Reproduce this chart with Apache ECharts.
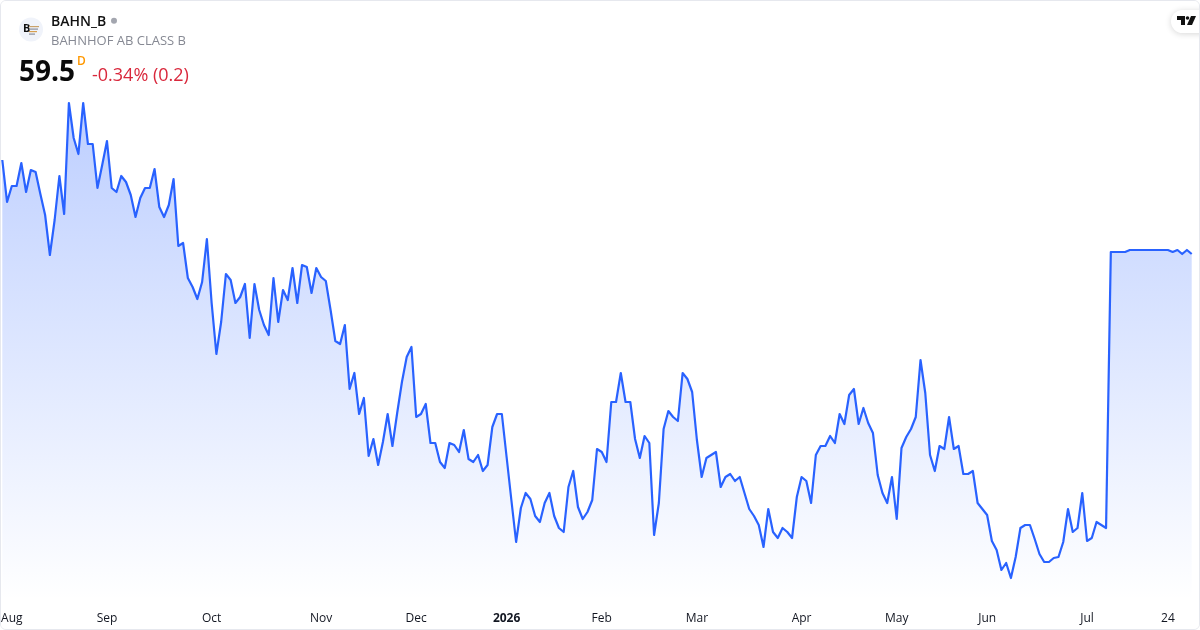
<!DOCTYPE html>
<html>
<head>
<meta charset="utf-8">
<style>
html,body{margin:0;padding:0;background:#fff;}
#card{position:absolute;left:0;top:0;width:1198px;height:628px;border:1px solid #e6e8ee;border-radius:6px;overflow:hidden;}
#chart{position:absolute;left:-1px;top:-1px;width:1200px;height:630px;}
</style>
<script src="https://cdn.jsdelivr.net/npm/echarts@6/dist/echarts.min.js"></script>
</head>
<body>
<div id="card"><div id="chart"></div></div>
<script>
const symbolName = 'BAHN_B';
const companyName = 'BAHNHOF AB CLASS B';
const lastPrice = '59.5';
const changeText = '-0.34% (0.2)';
const tickIndex = [0,22,44,67,87,106,126,146,168,188,207,228,245];
const tickLabels = ['Aug','Sep','Oct','Nov','Dec','2026','Feb','Mar','Apr','May','Jun','Jul','24'];
const prices1 = [64.2,62.1,62.9,62.9,64.05,62.6,63.7,63.6,62.5,61.45,59.45,61.2,63.4,61.5,67.05,65.3,64.5,67.05,65.0,65.0,62.8,63.95,65.15,62.8,62.6,63.4,63.1,62.45,61.35,62.3,62.8,62.8,63.75,61.85,61.35,61.95,63.25,59.9,60.05,58.3,57.85,57.25,58.1,60.25,57.05,54.5,56.1,58.5,58.2,57.05,57.35,58.0,55.3,58.0,56.7,55.95,55.45,58.3,56.1,57.7,57.2,58.8,57.05];
const prices2 = [58.95,58.85,57.55,58.8,58.35,58.15,56.7,55.15,55.0,55.95,52.75,53.55,51.5,52.3,49.4,50.25,48.95,50.1,51.5,49.9,51.55,53.1,54.35,54.85,51.35,51.5,52.0,50.05,50.05,49.1,48.8,50.05,49.95,49.6,50.7,49.25,49.1,49.45,48.65,48.95,50.85,51.5,51.5,49.35,47.2,45.1,46.8,47.55,47.25,46.4,46.1,47.05,47.55,46.4,45.8,45.6,47.85,48.65,46.85,46.25,46.6,47.2,49.75];
const prices3 = [49.6,49.1,52.1,52.1,53.55,52.1,52.1,50.25,49.3,50.4,50.05,45.45,47.05,50.75,51.65,51.35,51.15,53.55,53.25,52.6,50.2,48.35,49.3,49.45,49.6,47.85,48.35,48.5,48.15,48.35,47.55,46.75,46.4,45.95,44.85,46.75,45.6,45.3,45.8,45.6,45.3,47.35,48.35,48.15,47.05,49.45,49.9,49.9,50.4,50.05,51.5,51.0,52.45,52.75,51.0,51.8,51.05,50.55,48.45,47.55,47.05,48.35,46.25];
const prices4 = [49.8,50.35,50.75,51.35,54.2,52.55,49.45,48.65,49.9,49.75,51.35,49.75,49.9,48.5,48.5,48.65,47.05,46.75,46.45,45.15,44.7,43.7,44.05,43.3,44.35,45.8,45.95,45.95,45.25,44.5,44.1,44.1,44.3,44.35,45.1,46.75,45.6,45.8,47.55,45.15,45.3,46.1,45.95,45.8];
const prices5 = [59.6,59.6,59.6,59.6,59.7,59.7,59.7,59.7,59.7,59.7,59.7,59.7,59.7,59.6,59.7,59.5,59.7,59.5];

const prices = [].concat(prices1, prices2, prices3, prices4, prices5);
const categories = prices.map((_, i) => String(i));
const labelByIndex = {};
tickIndex.forEach((t, i) => { labelByIndex[t] = tickLabels[i]; });

const FONT = '"Open Sans", "Noto Sans", sans-serif';
const chart = echarts.init(document.getElementById('chart'), null, {renderer: 'canvas'});
chart.setOption({
  animation: false,
  backgroundColor: '#ffffff',
  grid: {left: 2.3, right: 8.3, top: 100, bottom: 30, containLabel: false, outerBoundsMode: 'none'},
  xAxis: {
    type: 'category',
    data: categories,
    boundaryGap: false,
    axisLine: {show: false},
    axisTick: {show: false},
    splitLine: {show: false},
    axisLabel: {
      interval: (index) => labelByIndex[index] !== undefined,
      formatter: (value, index) => {
        const t = labelByIndex[index] || '';
        if (index === 0) return '{first|' + t + '}';
        return /^\d{4}$/.test(t) ? '{year|' + t + '}' : t;
      },
      color: '#131722',
      fontFamily: FONT,
      fontSize: 12,
      margin: 13,
      rich: {
        year: {fontWeight: 'bold', fontSize: 12, fontFamily: FONT, color: '#131722'},
        first: {fontSize: 12, fontFamily: FONT, color: '#131722', padding: [0, 0, 0, 19]}
      }
    }
  },
  yAxis: {type: 'value', min: 42.2, max: 67.2, show: false},
  series: [{
    type: 'line',
    data: prices,
    showSymbol: false,
    smooth: false,
    lineStyle: {color: '#2962ff', width: 2.2, join: 'round'},
    areaStyle: {
      origin: 'start',
      opacity: 1,
      color: new echarts.graphic.LinearGradient(0, 0, 0, 1, [
        {offset: 0, color: 'rgba(41,98,255,0.31)'},
        {offset: 1, color: 'rgba(41,98,255,0)'}
      ])
    }
  }],
  graphic: [
    {type: 'circle', shape: {cx: 31, cy: 29.5, r: 12}, style: {fill: '#f0f3fa'}},
    {type: 'text', left: 23, top: 23, style: {text: 'B', font: 'bold 11px ' + FONT, fill: '#111111'}},
    {type: 'rect', shape: {x: 29, y: 26, width: 10, height: 1.2}, style: {fill: '#c9a26a'}},
    {type: 'rect', shape: {x: 29, y: 28.5, width: 9, height: 1.2}, style: {fill: '#8a8f9c'}},
    {type: 'rect', shape: {x: 29, y: 31, width: 8, height: 1.2}, style: {fill: '#d8a050'}},
    {type: 'rect', shape: {x: 29, y: 33.5, width: 6, height: 1.2}, style: {fill: '#8a8f9c'}},
    {type: 'text', left: 51, top: 15, style: {text: symbolName, font: '600 14px ' + FONT, fill: '#111111'}},
    {type: 'circle', shape: {cx: 114, cy: 20.7, r: 3}, style: {fill: '#a3a6af'}},
    {type: 'text', left: 51, top: 35, style: {text: companyName, font: '13px ' + FONT, fill: '#868993'}},
    {type: 'text', left: 19, top: 59, style: {text: lastPrice, font: 'bold 28px ' + FONT, fill: '#0a0a0a'}},
    {type: 'text', left: 77, top: 56, style: {text: 'D', font: '600 12px ' + FONT, fill: '#ff9800'}},
    {type: 'text', left: 92, top: 67, style: {text: changeText, font: '18px ' + FONT, fill: '#d9283c'}},
    {type: 'rect', shape: {x: 1171, y: 10, width: 50, height: 23, r: 12},
     style: {fill: '#ffffff', shadowBlur: 6, shadowColor: 'rgba(0,0,0,0.16)', shadowOffsetY: 1}},
    {type: 'polygon', shape: {points: [[1177,16],[1185,16],[1185,25],[1181,25],[1181,20],[1177,20]]}, style: {fill: '#111111'}},
    {type: 'circle', shape: {cx: 1187.5, cy: 18, r: 1.8}, style: {fill: '#111111'}},
    {type: 'polygon', shape: {points: [[1191,16],[1196,16],[1192,25],[1187,25]]}, style: {fill: '#111111'}}
  ]
});
</script>
</body>
</html>
